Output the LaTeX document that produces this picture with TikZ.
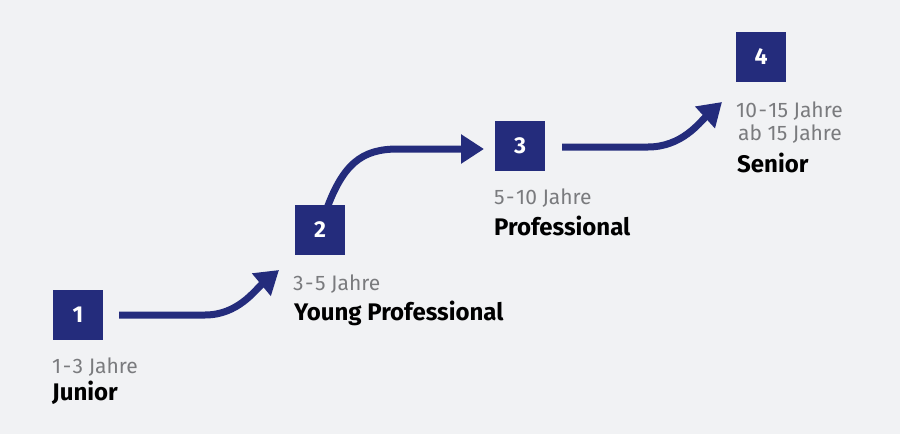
\documentclass[tikz,border=0pt]{standalone}
\usepackage{fontspec}
\setmainfont{Fira Sans}
\usetikzlibrary{arrows.meta,positioning}
\definecolor{navy}{HTML}{242C7C}
\definecolor{bgray}{HTML}{F1F2F4}
\definecolor{tgray}{HTML}{7A7B7E}
\newcommand{\yr}[2]{#1\kern1.5pt-\kern1.5pt#2}
\begin{document}
\begin{tikzpicture}[x=1pt,y=-1pt]

      \tikzset{stepbox/.style={fill=navy, inner sep=0pt, minimum size=50pt, text=white, font=\fontsize{23}{27}\selectfont\bfseries},
               years/.style={anchor=base west, inner sep=0pt, text=tgray, font=\fontsize{21}{25}\selectfont},
               title/.style={anchor=base west, inner sep=0pt, text=black, font=\fontsize{24}{28}\selectfont\bfseries},
               flow/.style={navy, line width=7pt, -{Triangle[length=23pt, width=28pt]}}}
      \fill[bgray] (0,0) rectangle (900,434);
      \useasboundingbox (0,0) rectangle (900,434);
%% Steps
      	\node[stepbox] (b1) at (78,315) {1};
      	\node[stepbox] (b2) at (320,230) {2};
      	\node[stepbox] (b3) at (520,145.5) {3};
      	\node[stepbox] (b4) at (761,56.5) {4};
%% Labels
      	\node[years] (y1) at (52,373) {\yr{1}{3} Jahre};
      	\node[title] (t1) at (52,400) {Junior};
      	\node[years] (y2) at (293,290) {\yr{3}{5} Jahre};
      	\node[title] (t2) at (294,320) {Young Professional};
      	\node[years] (y3) at (494,204) {\yr{5}{10} Jahre};
      	\node[title] (t3) at (494,235) {Professional};
      	\node[years] (y4a) at (736,117) {\yr{10}{15} Jahre};
      	\node[years] (y4b) at (738,140) {ab 15 Jahre};
      	\node[title] (t4) at (737,172) {Senior};
%% Arrow ends
      	\coordinate (e1) at (279,270);
      	\coordinate (e2) at (484,149);
      	\coordinate (e3) at (722,102);
%Arrows
		\draw[flow] ([xshift=16pt]b1.east |- 0,315) -- (205,315) .. controls (238,315) and (255,290) .. (e1);
		\draw[flow] ([yshift=-12pt]b2.north -| 324,0) .. controls (342,163) and (362,149) .. (398,149) -- (e2);
		\draw[flow] ([xshift=17pt]b3.east |- 0,147) -- (648,147) .. controls (682,147) and (700,122) .. (e3);

	\end{tikzpicture}
\end{document}
